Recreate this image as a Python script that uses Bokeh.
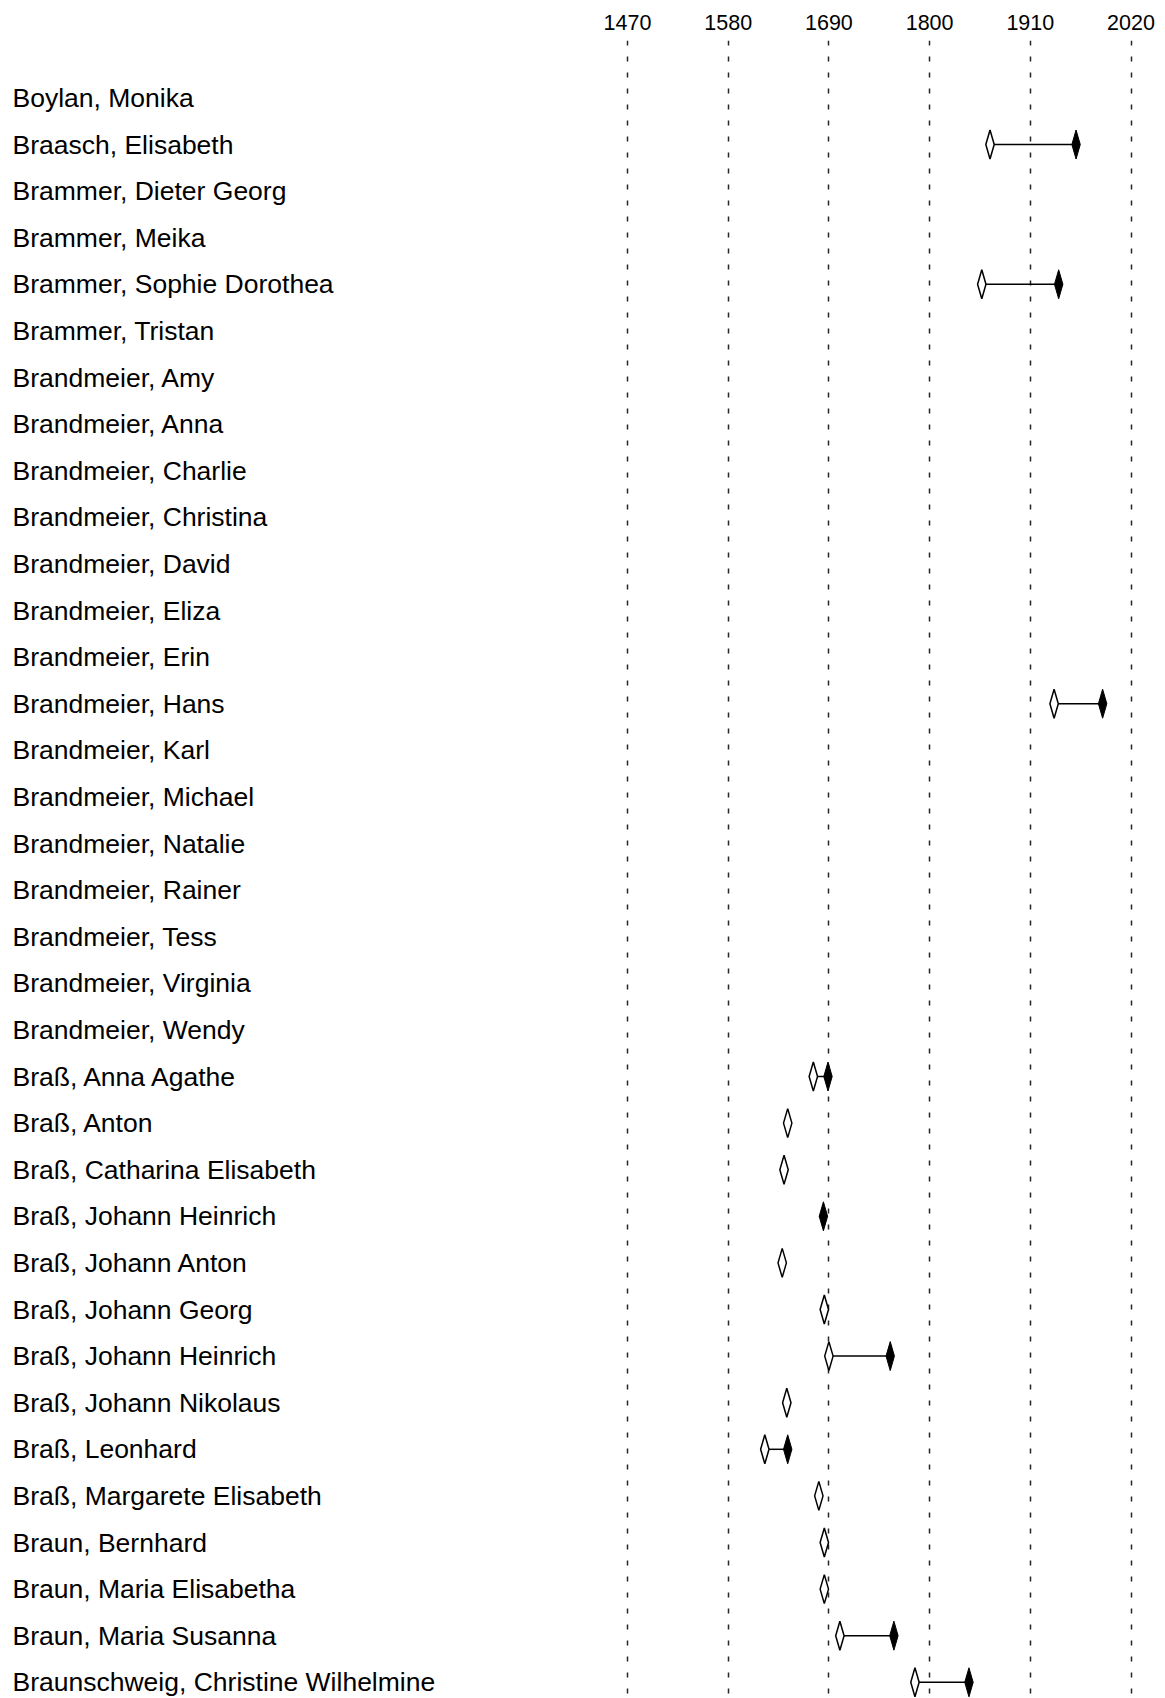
from bokeh.plotting import figure
from bokeh.models import Range1d, FixedTicker
from bokeh.embed import file_html
from bokeh.resources import INLINE
from bokeh.core.properties import value

# ---- data ----
names = [
    "Boylan, Monika",
    "Braasch, Elisabeth",
    "Brammer, Dieter Georg",
    "Brammer, Meika",
    "Brammer, Sophie Dorothea",
    "Brammer, Tristan",
    "Brandmeier, Amy",
    "Brandmeier, Anna",
    "Brandmeier, Charlie",
    "Brandmeier, Christina",
    "Brandmeier, David",
    "Brandmeier, Eliza",
    "Brandmeier, Erin",
    "Brandmeier, Hans",
    "Brandmeier, Karl",
    "Brandmeier, Michael",
    "Brandmeier, Natalie",
    "Brandmeier, Rainer",
    "Brandmeier, Tess",
    "Brandmeier, Virginia",
    "Brandmeier, Wendy",
    "Braß, Anna Agathe",
    "Braß, Anton",
    "Braß, Catharina Elisabeth",
    "Braß, Johann Heinrich",
    "Braß, Johann Anton",
    "Braß, Johann Georg",
    "Braß, Johann Heinrich",
    "Braß, Johann Nikolaus",
    "Braß, Leonhard",
    "Braß, Margarete Elisabeth",
    "Braun, Bernhard",
    "Braun, Maria Elisabetha",
    "Braun, Maria Susanna",
    "Braunschweig, Christine Wilhelmine",
]
birth = [None, 1866, None, None, 1857, None, None, None, None, None,
         None, None, None, 1936, None, None, None, None, None, None,
         None, 1673, 1645, 1641, None, 1639, 1685, 1690, 1644, 1620,
         1679, 1685, 1685, 1702, 1784]
death = [None, 1960, None, None, 1941, None, None, None, None, None,
         None, None, None, 1989, None, None, None, None, None, None,
         None, 1689, None, None, 1684, None, None, 1757, None, 1645,
         None, None, None, 1761, 1843]
tick_years = [1470, 1580, 1690, 1800, 1910, 2020]

# ---- layout constants ----
W, H = 1165, 1698
FRAME_TOP = 40
PX_PER_YEAR = 100.7 / 110.0
ROW_PX = 46.6
ROW0_PX = 97.4
x_start = 1470 - 627 / PX_PER_YEAR
x_end = 1470 + (W - 627) / PX_PER_YEAR
y_top = (FRAME_TOP - ROW0_PX) / ROW_PX
y_bot = (H - ROW0_PX) / ROW_PX
name_x = 1470 - 615 / PX_PER_YEAR

DX = 4.2 / PX_PER_YEAR      # half-width of diamonds in years
DY = 14.5 / ROW_PX          # half-height of diamonds in rows

p = figure(width=W, height=H, output_backend="svg", toolbar_location=None,
           x_range=Range1d(x_start, x_end), y_range=Range1d(y_bot, y_top),
           x_axis_location="above", min_border_left=0, min_border_right=0,
           min_border_top=FRAME_TOP, min_border_bottom=0)
p.outline_line_color = None
p.yaxis.visible = False
p.ygrid.visible = False

ax = p.xaxis[0]
ax.ticker = FixedTicker(ticks=tick_years)
ax.axis_line_color = None
ax.major_tick_line_color = None
ax.minor_tick_line_color = None
ax.major_tick_out = 0
ax.major_tick_in = 0
ax.major_label_standoff = 11
ax.major_label_text_font = "Liberation Sans"
ax.major_label_text_font_size = "21.5px"
ax.major_label_text_color = "black"

p.xgrid.ticker = FixedTicker(ticks=tick_years)
p.xgrid.grid_line_color = "black"
p.xgrid.grid_line_width = 1.5
p.xgrid.grid_line_dash = "5 11"
p.xgrid.grid_line_alpha = 0.85

rows = list(range(len(names)))

# names
p.text(x=[name_x] * len(names), y=rows, text=names,
       text_font=value("Liberation Sans"), text_font_size="26.5px",
       text_baseline="middle", text_align="left", text_color="black")

# life lines
seg_x0, seg_x1, seg_y = [], [], []
for r, b, d in zip(rows, birth, death):
    if b is not None and d is not None:
        seg_x0.append(b); seg_x1.append(d); seg_y.append(r)
p.segment(x0=seg_x0, y0=seg_y, x1=seg_x1, y1=seg_y,
          line_color="black", line_width=1.5)

def diamonds(xs_c, ys_c):
    xs = [[x - DX, x, x + DX, x] for x in xs_c]
    ys = [[y, y - DY, y, y + DY] for y in ys_c]
    return xs, ys

bx = [b for b in birth if b is not None]
by = [r for r, b in zip(rows, birth) if b is not None]
dx_ = [d for d in death if d is not None]
dy_ = [r for r, d in zip(rows, death) if d is not None]

xs, ys = diamonds(bx, by)
p.patches(xs, ys, fill_color="white", line_color="black", line_width=1.5)
xs, ys = diamonds(dx_, dy_)
p.patches(xs, ys, fill_color="black", line_color="black", line_width=1.0)

open("out.html", "w").write(file_html(p, INLINE))
